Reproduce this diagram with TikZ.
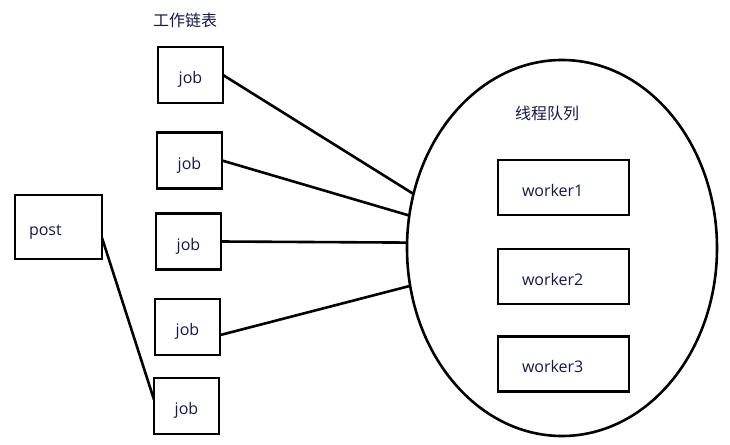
\documentclass[tikz,border=0pt]{standalone}
\usepackage{fontspec}
\setmainfont{Open Sans}
\newfontfamily\cjk{Noto Sans CJK SC}
\usepackage{xcolor}
\usetikzlibrary{arrows.meta, positioning, shapes.geometric}
\definecolor{inkblue}{HTML}{14184A}

\begin{document}
\begin{tikzpicture}[
  x=1pt, y=-1pt,
  box/.style={draw, line width=2.7pt, minimum width=65pt, minimum height=56pt,
              inner sep=0pt, outer sep=0pt, text=inkblue,
              text height=17pt, text depth=0pt},
  wbox/.style={box, minimum width=131pt, minimum height=55pt, align=left,
               text width=83pt, inner xsep=24pt},
  link/.style={line width=2.6pt},
  every node/.style={font=\fontsize{16}{19}\selectfont}
]
  \useasboundingbox (0,0) rectangle (730,444);

  \node[text=inkblue, font=\cjk\fontsize{16}{19}\selectfont] (title) at (185,20) {工作链表};

  \node[box] (job1) at (190.5,75) {job};
  \node[box] (job2) at (189.5,160.5) {job};
  \node[box] (job3) at (188.5,241.5) {job};
  \node[box] (job4) at (187.5,327) {job};
  \node[box] (job5) at (186.5,406) {job};

  \node[box, minimum width=87pt, minimum height=64pt, align=left,
        text width=59pt, inner xsep=14pt] (post) at (58.5,227) {post};

  \node[draw, ellipse, line width=2.6pt, minimum width=310pt, minimum height=376pt,
        inner sep=0pt, outer sep=0pt] (queue) at (562,248) {};
  \node[text=inkblue, font=\cjk\fontsize{16}{19}\selectfont] (qtitle) at (547,113) {线程队列};

  \node[wbox] (w1) at (563.5,187.5) {worker1};
  \node[wbox] (w2) at (563.5,276.5) {worker2};
  \node[wbox] (w3) at (563.5,364) {worker3};

  \draw[link] (job1.east) -- (queue.160.5);
  \draw[link] (job2.east) -- (queue.168.6);
  \draw[link] (job3.east) -- (queue.178);
  \draw[link] (job4.-14) -- (queue.194.6);
  \draw[link] (post.-14) -- (job5.169);
\end{tikzpicture}
\end{document}
